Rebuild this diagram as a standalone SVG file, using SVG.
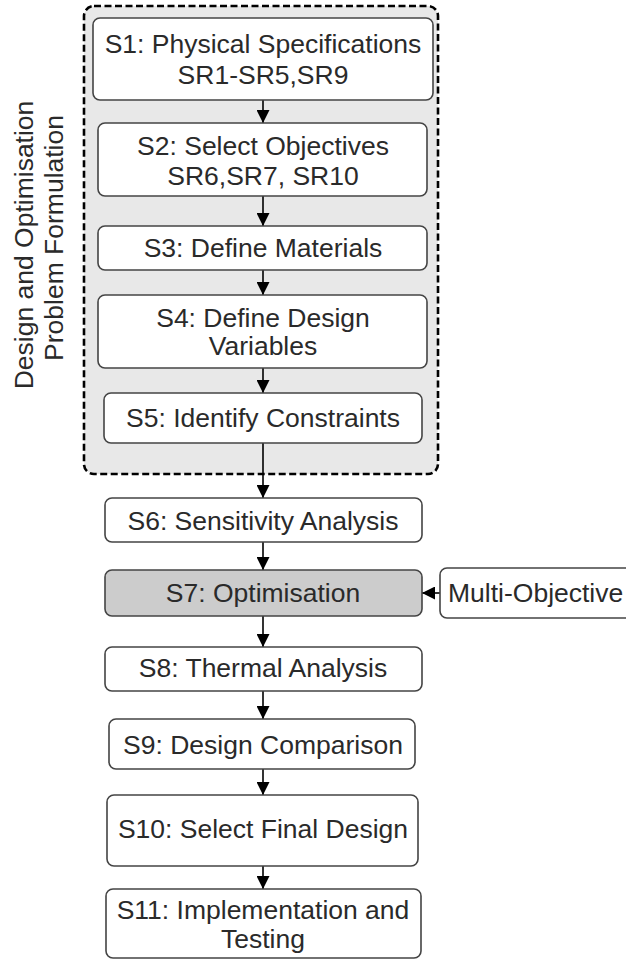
<svg xmlns="http://www.w3.org/2000/svg" width="626" height="960" viewBox="0 0 626 960">
<defs>
<style>
.box{fill:#ffffff;stroke:#444444;stroke-width:1.6}
.gray{fill:#cccccc;stroke:#444444;stroke-width:1.6}
.t{font-family:"Liberation Sans",Arial,sans-serif;font-size:26.5px;fill:#2a2a2a;text-anchor:middle}
.ts{font-family:"Liberation Sans",Arial,sans-serif;font-size:26.5px;fill:#2a2a2a}
.c{stroke:#000000;stroke-width:1.6;fill:none;marker-end:url(#ah)}
</style>
<marker id="ah" viewBox="0 0 13 13" markerWidth="13" markerHeight="13" refX="13" refY="6.5" orient="auto" markerUnits="userSpaceOnUse">
<path d="M0,0 L13,6.5 L0,13 z" fill="#000000"/>
</marker>
</defs>
<rect width="626" height="960" fill="#ffffff"/>
<g id="group-formulation">
<rect x="84" y="6" width="354" height="468" rx="10" fill="#e8e8e8" stroke="#000000" stroke-width="2.6" stroke-dasharray="7,3.5"/>
<text class="t" transform="translate(33,245) rotate(-90)">Design and Optimisation</text>
<text class="t" transform="translate(63,238) rotate(-90)">Problem Formulation</text>
</g>
<g id="connectors">
<line class="c" x1="263" y1="100" x2="263" y2="123"/>
<line class="c" x1="263" y1="196" x2="263" y2="226"/>
<line class="c" x1="263" y1="270" x2="263" y2="295"/>
<line class="c" x1="263" y1="368" x2="263" y2="393"/>
<line class="c" x1="263" y1="443" x2="263" y2="498"/>
<line class="c" x1="263" y1="542" x2="263" y2="570"/>
<line class="c" x1="263" y1="616" x2="263" y2="647"/>
<line class="c" x1="263" y1="691" x2="263" y2="719"/>
<line class="c" x1="263" y1="769" x2="263" y2="795"/>
<line class="c" x1="263" y1="866" x2="263" y2="889"/>
<line class="c" x1="440" y1="593" x2="422" y2="593"/>
</g>
<g id="s1">
<rect class="box" x="93" y="18" width="340" height="82" rx="7"/>
<text class="t" x="263" y="53">S1: Physical Specifications</text>
<text class="t" x="263" y="84">SR1-SR5,SR9</text>
</g>
<g id="s2">
<rect class="box" x="98" y="123" width="329" height="73" rx="7"/>
<text class="t" x="263" y="155">S2: Select Objectives</text>
<text class="t" x="263" y="185">SR6,SR7, SR10</text>
</g>
<g id="s3">
<rect class="box" x="98" y="226" width="329" height="44" rx="7"/>
<text class="t" x="263" y="257">S3: Define Materials</text>
</g>
<g id="s4">
<rect class="box" x="98" y="295" width="329" height="73" rx="7"/>
<text class="t" x="263" y="327">S4: Define Design</text>
<text class="t" x="263" y="355">Variables</text>
</g>
<g id="s5">
<rect class="box" x="104" y="393" width="318" height="50" rx="7"/>
<text class="t" x="263" y="427">S5: Identify Constraints</text>
</g>
<g id="s6">
<rect class="box" x="105" y="498" width="317" height="44" rx="7"/>
<text class="t" x="263" y="530">S6: Sensitivity Analysis</text>
</g>
<g id="s7">
<rect class="gray" x="105" y="570" width="317" height="46" rx="7"/>
<text class="t" x="263" y="602">S7: Optimisation</text>
</g>
<g id="multi-objective">
<rect class="box" x="440" y="568" width="200" height="50" rx="7"/>
<text class="ts" x="448" y="602">Multi-Objective</text>
</g>
<g id="s8">
<rect class="box" x="105" y="647" width="317" height="44" rx="7"/>
<text class="t" x="263" y="677">S8: Thermal Analysis</text>
</g>
<g id="s9">
<rect class="box" x="109" y="719" width="306" height="50" rx="7"/>
<text class="t" x="263" y="754">S9: Design Comparison</text>
</g>
<g id="s10">
<rect class="box" x="107" y="795" width="311" height="71" rx="7"/>
<text class="t" x="263" y="838">S10: Select Final Design</text>
</g>
<g id="s11">
<rect class="box" x="106" y="889" width="315" height="69" rx="7"/>
<text class="t" x="263" y="919">S11: Implementation and</text>
<text class="t" x="263" y="948">Testing</text>
</g>
</svg>
